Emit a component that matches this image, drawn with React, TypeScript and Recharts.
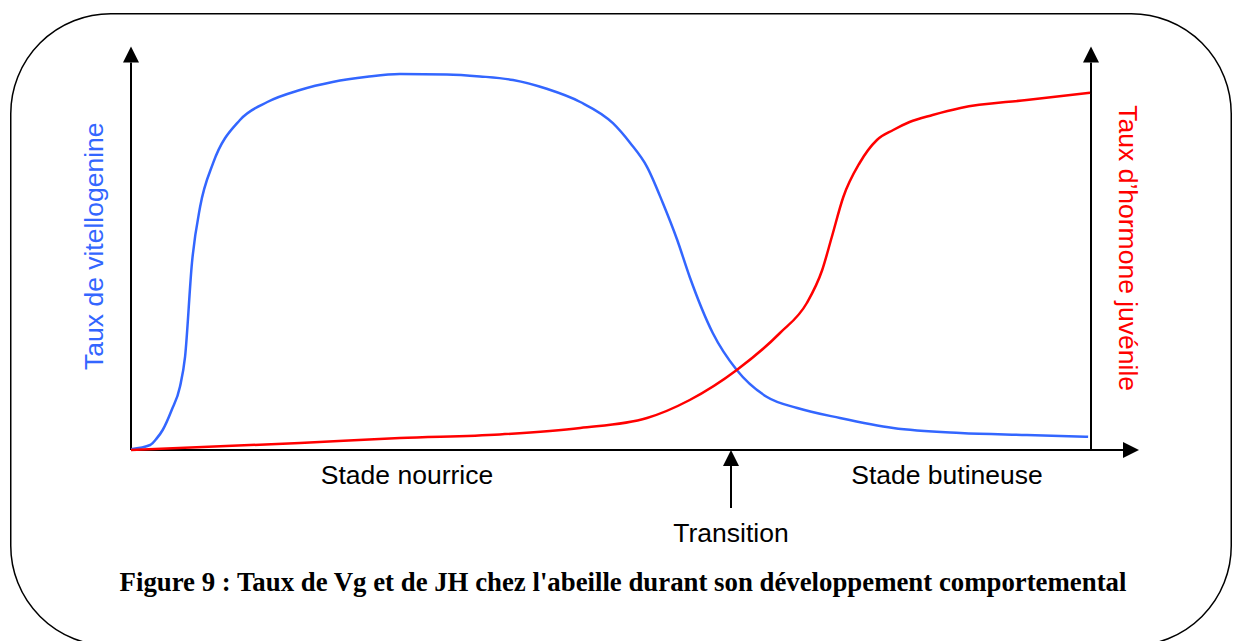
import { LineChart, Line, XAxis, YAxis, ReferenceLine } from "recharts";

// Vitellogenine (blue) — behavioural stage (0..100) vs relative level
const vgStage = [0, 2, 2.68, 3.3, 4.24, 5.1, 5.63, 6.35, 7.2, 8.55, 11.35, 14.2, 17.6, 21, 24.6, 28, 32.9, 36.35, 39.8, 43.3, 46.8, 50.2, 52, 53.75, 55.4, 56.9, 58.2, 60.6, 63.1, 66.25, 69.4, 73.85, 79.4, 86.4, 93.3, 99.7];
const vgLevel = [0.2, 1.25, 2.9, 5, 10, 15.8, 23.3, 46.8, 60.8, 71.7, 82.5, 87, 90, 92, 93.3, 94, 93.9, 93.4, 92.5, 90.3, 87, 81.7, 76.75, 70.8, 61.75, 52.5, 43.25, 29.25, 20, 13.25, 10.5, 8, 5.5, 4.25, 3.75, 3.3];

// Juvenile hormone (red)
const jhStage = [0, 17.6, 28, 38.4, 46.8, 53.75, 58.2, 63.1, 67.6, 70.4, 72, 73, 74.2, 75.9, 77.7, 79.4, 81.1, 83.5, 86.4, 93.3, 99.9];
const jhLevel = [0, 1.75, 3, 3.9, 5.5, 8, 12.5, 20, 29.25, 36.75, 45, 53.25, 63.25, 71.75, 77.5, 80, 82, 83.75, 85.5, 87.5, 89.3];

const stageTicks = [28.75, 85];
const stageLabels = ["Stade nourrice", "Stade butineuse"];
const transitionAt = 62.5;

const vgData = vgStage.map((x, i) => ({ x, y: vgLevel[i] }));
const jhData = jhStage.map((x, i) => ({ x, y: jhLevel[i] }));

const SANS = "'Liberation Sans', Arial, sans-serif";
const FS = 26.5;
const BLUE = "#3366ff";
const RED = "#ff0000";

// line with a filled triangular head at (x2, y2)
function arrow(caption?: { text: string; color: string; side: "left" | "right" | "below" }) {
  return (p: any) => {
    const { x1, y1, x2, y2 } = p;
    const len = Math.hypot(x2 - x1, y2 - y1) || 1;
    const ux = (x2 - x1) / len;
    const uy = (y2 - y1) / len;
    const head = 16;
    const hw = 8;
    const bx = x2 - ux * head;
    const by = y2 - uy * head;
    const pts = `${x2},${y2} ${bx - uy * hw},${by + ux * hw} ${bx + uy * hw},${by - ux * hw}`;
    let cap = null;
    if (caption) {
      const midY = (y1 + y2) / 2;
      if (caption.side === "left") {
        cap = (
          <text x={x1 - 37} y={midY - 2} fill={caption.color} fontSize={FS} fontFamily={SANS}
            textAnchor="middle" dominantBaseline="central" transform={`rotate(-90 ${x1 - 37} ${midY - 2})`}>
            {caption.text}
          </text>
        );
      } else if (caption.side === "right") {
        cap = (
          <text x={x1 + 37} y={midY} fill={caption.color} fontSize={FS} fontFamily={SANS}
            textAnchor="middle" dominantBaseline="central" transform={`rotate(90 ${x1 + 37} ${midY})`}>
            {caption.text}
          </text>
        );
      } else {
        cap = (
          <text x={x1} y={y1 + 34} fill={caption.color} fontSize={FS} fontFamily={SANS} textAnchor="middle">
            {caption.text}
          </text>
        );
      }
    }
    return (
      <g>
        <line x1={x1} y1={y1} x2={bx} y2={by} stroke="#000" strokeWidth={2} />
        <polygon points={pts} fill="#000" />
        {cap}
      </g>
    );
  };
}

export default function App() {
  return (
    <div style={{ position: "absolute", left: 0, top: 0, width: 1233, height: 641, background: "#fff", overflow: "hidden" }}>
      <svg width={1233} height={641} style={{ position: "absolute", left: 0, top: 0 }}>
        <rect x={10.75} y={13.75} width={1220.5} height={632} rx={100} ry={100} fill="none" stroke="#000" strokeWidth={1.5} />
        <text x={623} y={591} textAnchor="middle" fontSize={26.8} fontWeight="bold"
          fontFamily="'Liberation Serif', 'Times New Roman', serif" fill="#000">
          Figure 9 : Taux de Vg et de JH chez l'abeille durant son développement comportemental
        </text>
      </svg>
      <div style={{ position: "absolute", left: 0, top: 0 }}>
        <LineChart width={1233} height={641} margin={{ top: 50, right: 142, bottom: 161, left: 131 }}>
          <XAxis
            dataKey="x"
            type="number"
            domain={[0, 100]}
            ticks={stageTicks}
            interval={0}
            tickFormatter={(v) => stageLabels[stageTicks.indexOf(v)] ?? ""}
            axisLine={false}
            tickLine={false}
            tickSize={0}
            tickMargin={15}
            height={30}
            tick={{ fill: "#000", fontSize: FS, fontFamily: SANS }}
          />
          <YAxis type="number" domain={[0, 100]} hide />
          <ReferenceLine
            segment={[{ x: 0, y: 0 }, { x: 105, y: 0 }]}
            ifOverflow="visible"
            shape={arrow()}
          />
          <ReferenceLine
            segment={[{ x: 0, y: 0 }, { x: 0, y: 100.9 }]}
            ifOverflow="visible"
            shape={arrow({ text: "Taux de vitellogenine", color: BLUE, side: "left" })}
          />
          <ReferenceLine
            segment={[{ x: 100, y: 0 }, { x: 100, y: 100.9 }]}
            ifOverflow="visible"
            shape={arrow({ text: "Taux d\u2019hormone juvénile", color: RED, side: "right" })}
          />
          <ReferenceLine
            segment={[{ x: transitionAt, y: -14.5 }, { x: transitionAt, y: 0 }]}
            ifOverflow="visible"
            shape={arrow({ text: "Transition", color: "#000", side: "below" })}
          />
          <Line data={vgData} dataKey="y" type="monotone" stroke={BLUE} strokeWidth={2.5}
            dot={false} activeDot={false} isAnimationActive={false} />
          <Line data={jhData} dataKey="y" type="monotone" stroke={RED} strokeWidth={2.5}
            dot={false} activeDot={false} isAnimationActive={false} />
        </LineChart>
      </div>
    </div>
  );
}
